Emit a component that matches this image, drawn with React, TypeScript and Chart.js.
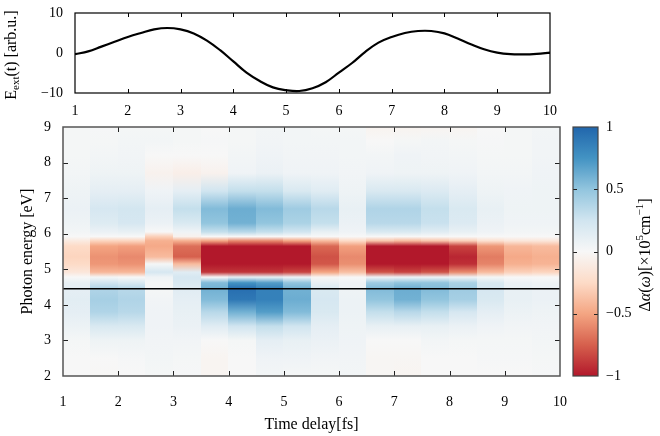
import { useEffect, useRef } from 'react';
import { Chart, registerables } from 'chart.js';
Chart.register(...registerables);

// ---------- data ----------
const fieldTimes = [1, 1.25, 1.5, 1.75, 2, 2.25, 2.5, 2.75, 3, 3.25, 3.5, 3.75, 4, 4.25, 4.5, 4.75, 5, 5.25, 5.5, 5.75, 6, 6.25, 6.5, 6.75, 7, 7.25, 7.5, 7.75, 8, 8.25, 8.5, 8.75, 9, 9.25, 9.5, 9.75, 10];
const fieldValues = [-0.3, 0.4, 1.6, 2.8, 4.0, 5.0, 5.9, 6.25, 5.9, 4.9, 3.1, 0.7, -2.1, -4.9, -7.0, -8.6, -9.3, -9.5, -8.8, -7.3, -4.9, -2.5, 0.3, 2.6, 4.0, 5.0, 5.5, 5.5, 4.9, 3.6, 2.2, 0.95, 0.1, -0.3, -0.35, -0.2, 0.1];

const delays = [1, 1.5, 2, 2.5, 3, 3.5, 4, 4.5, 5, 5.5, 6, 6.5, 7, 7.5, 8, 8.5, 9, 9.5];
const delayEnd = 10;
const energies = [2.0, 2.5, 3.0, 3.4, 3.8, 4.15, 4.45, 4.62, 4.78, 4.92, 5.15, 5.35, 5.65, 5.8, 5.92, 6.05, 6.3, 6.7, 7.2, 7.7, 8.2, 8.6, 9.0];

const dA_t1_0 = [0.0, 0.0, 0.02, 0.07, 0.12, 0.14, 0.12, 0.1, 0.0, -0.15, -0.25, -0.28, -0.25, -0.12, 0.0, 0.03, 0.06, 0.08, 0.06, 0.03, 0.02, 0.02, 0.02];
const dA_t1_5 = [-0.01, 0.0, 0.06, 0.2, 0.38, 0.42, 0.38, 0.25, 0.02, -0.42, -0.55, -0.57, -0.5, -0.28, 0.0, 0.08, 0.17, 0.22, 0.12, 0.06, 0.03, 0.02, 0.01];
const dA_t2_0 = [0.0, 0.01, 0.06, 0.2, 0.35, 0.38, 0.35, 0.2, 0.0, -0.42, -0.57, -0.6, -0.52, -0.28, 0.0, 0.1, 0.22, 0.24, 0.12, 0.06, 0.04, 0.03, 0.02];
const dA_t2_5 = [0.02, 0.03, 0.04, 0.05, 0.05, 0.04, 0.02, 0.02, 0.05, 0.22, 0.02, -0.4, -0.48, -0.45, -0.3, 0.0, 0.08, 0.12, 0.05, -0.05, 0.0, 0.03, 0.02];
const dA_t3_0 = [0.01, 0.02, 0.04, 0.08, 0.1, 0.12, 0.15, 0.2, 0.22, 0.15, -0.4, -0.75, -0.7, -0.45, -0.05, 0.05, 0.2, 0.3, 0.12, -0.08, 0.0, 0.02, 0.02];
const dA_t3_5 = [-0.03, -0.03, 0.0, 0.15, 0.35, 0.55, 0.6, 0.55, 0.0, -0.9, -1.3, -1.3, -1.2, -0.5, 0.0, 0.3, 0.5, 0.55, 0.25, -0.05, 0.0, 0.01, 0.0];
const dA_t4_0 = [0.0, 0.0, 0.02, 0.25, 0.6, 0.9, 0.95, 0.75, 0.1, -0.9, -1.4, -1.4, -1.3, -0.6, 0.0, 0.35, 0.6, 0.62, 0.3, 0.05, 0.03, 0.02, 0.02];
const dA_t4_5 = [0.03, 0.05, 0.12, 0.3, 0.7, 0.85, 0.85, 0.7, 0.1, -0.9, -1.4, -1.4, -1.3, -0.6, 0.0, 0.3, 0.5, 0.55, 0.3, 0.08, 0.05, 0.04, 0.03];
const dA_t5_0 = [0.02, 0.05, 0.1, 0.25, 0.55, 0.62, 0.6, 0.5, 0.05, -0.85, -1.3, -1.3, -1.2, -0.5, 0.0, 0.25, 0.4, 0.45, 0.2, 0.05, 0.04, 0.03, 0.03];
const dA_t5_5 = [0.02, 0.04, 0.08, 0.12, 0.2, 0.22, 0.2, 0.1, -0.02, -0.5, -0.78, -0.8, -0.72, -0.4, 0.0, 0.1, 0.3, 0.35, 0.15, 0.05, 0.04, 0.03, 0.02];
const dA_t6_0 = [0.03, 0.04, 0.05, 0.06, 0.07, 0.07, 0.06, 0.05, 0.0, -0.38, -0.58, -0.6, -0.52, -0.25, 0.0, 0.05, 0.08, 0.1, 0.06, 0.04, 0.03, 0.03, 0.02];
const dA_t6_5 = [-0.02, -0.02, 0.0, 0.1, 0.3, 0.5, 0.55, 0.45, 0.05, -0.8, -1.2, -1.2, -1.1, -0.35, 0.0, 0.2, 0.35, 0.38, 0.2, 0.05, 0.03, 0.0, -0.04];
const dA_t7_0 = [-0.03, -0.02, 0.0, 0.1, 0.35, 0.6, 0.62, 0.5, 0.05, -0.85, -1.3, -1.3, -1.2, -0.4, 0.0, 0.2, 0.35, 0.38, 0.2, 0.06, 0.05, 0.02, -0.04];
const dA_t7_5 = [0.0, 0.0, 0.03, 0.1, 0.3, 0.5, 0.55, 0.5, 0.05, -0.8, -1.15, -1.15, -1.05, -0.35, 0.0, 0.15, 0.28, 0.3, 0.18, 0.06, 0.04, 0.03, -0.03];
const dA_t8_0 = [0.0, 0.0, 0.02, 0.08, 0.22, 0.42, 0.45, 0.4, 0.05, -0.6, -0.92, -0.95, -0.85, -0.3, 0.0, 0.1, 0.18, 0.2, 0.12, 0.05, 0.03, 0.02, -0.03];
const dA_t8_5 = [0.0, 0.01, 0.02, 0.05, 0.12, 0.2, 0.22, 0.2, 0.02, -0.4, -0.62, -0.65, -0.55, -0.2, 0.0, 0.05, 0.08, 0.1, 0.06, 0.03, 0.02, 0.01, 0.0];
const dA_t9_0 = [0.0, 0.01, 0.02, 0.04, 0.07, 0.1, 0.1, 0.08, 0.0, -0.3, -0.45, -0.48, -0.42, -0.15, 0.0, 0.03, 0.05, 0.06, 0.05, 0.03, 0.02, 0.02, 0.02];
const dA_t9_5 = [0.01, 0.02, 0.03, 0.04, 0.06, 0.08, 0.08, 0.06, 0.0, -0.28, -0.43, -0.45, -0.4, -0.15, 0.0, 0.03, 0.05, 0.06, 0.06, 0.05, 0.04, 0.04, 0.03];

const heatColumns = [dA_t1_0, dA_t1_5, dA_t2_0, dA_t2_5, dA_t3_0, dA_t3_5, dA_t4_0, dA_t4_5, dA_t5_0, dA_t5_5, dA_t6_0, dA_t6_5, dA_t7_0, dA_t7_5, dA_t8_0, dA_t8_5, dA_t9_0, dA_t9_5];

const gapEnergy = 4.45;
const timeTicks = [1, 2, 3, 4, 5, 6, 7, 8, 9, 10];
const energyTicks = [2, 3, 4, 5, 6, 7, 8, 9];
const fieldTicks = [-10, 0, 10];
const cbarTicks = [-1, -0.5, 0, 0.5, 1];
const rdbu = ['#b2182b', '#d6604d', '#f4a582', '#fddbc7', '#f7f7f7', '#d1e5f0', '#92c5de', '#4393c3', '#2166ac'];

// ---------- helpers ----------
const SERIF = '"Liberation Serif", "DejaVu Serif", serif';
const fmt = (v: number) => (v < 0 ? '\u2212' + String(Math.abs(v)) : String(v));
const hex = (h: string) => [parseInt(h.slice(1, 3), 16), parseInt(h.slice(3, 5), 16), parseInt(h.slice(5, 7), 16)];
const rdbuRgb = rdbu.map(hex);
function cmap(v: number) {
  const c = Math.max(-1, Math.min(1, v));
  const p = ((c + 1) / 2) * (rdbuRgb.length - 1);
  const i = Math.min(Math.floor(p), rdbuRgb.length - 2);
  const f = p - i;
  const a = rdbuRgb[i], b = rdbuRgb[i + 1];
  return `rgb(${Math.round(a[0] + (b[0] - a[0]) * f)},${Math.round(a[1] + (b[1] - a[1]) * f)},${Math.round(a[2] + (b[2] - a[2]) * f)})`;
}
const setTicks = (arr: number[]) => (s: any) => { s.ticks = arr.map((v) => ({ value: v })); };
const fitX = (h: number) => (s: any) => { s.height = h; s.paddingLeft = 0; s.paddingRight = 0; };
const fitY = (w: number) => (s: any) => { s.width = w; s.paddingTop = 0; s.paddingBottom = 0; };

type Seg = { t: string; size: number; italic?: boolean; dy?: number };
function drawRotated(ctx: CanvasRenderingContext2D, cx: number, cy: number, segs: Seg[]) {
  ctx.save();
  ctx.translate(cx, cy);
  ctx.rotate(-Math.PI / 2);
  ctx.textBaseline = 'alphabetic';
  ctx.textAlign = 'left';
  ctx.fillStyle = '#000';
  let total = 0;
  const widths = segs.map((s) => {
    ctx.font = `${s.italic ? 'italic ' : ''}${s.size}px ${SERIF}`;
    const w = ctx.measureText(s.t).width;
    total += w;
    return w;
  });
  let x = -total / 2;
  segs.forEach((s, i) => {
    ctx.font = `${s.italic ? 'italic ' : ''}${s.size}px ${SERIF}`;
    ctx.fillText(s.t, x, 5 + (s.dy || 0));
    x += widths[i];
  });
  ctx.restore();
}

function frameTicks(color: string, tickColor: string, width: number, len: number) {
  return {
    id: 'frameTicks',
    afterDatasetsDraw(chart: any) {
      const { ctx, chartArea: a, scales } = chart;
      ctx.save();
      ctx.strokeStyle = tickColor;
      ctx.lineWidth = 1;
      const xs = scales.x, ys = scales.y;
      xs.ticks.forEach((t: any) => {
        const px = Math.round(xs.getPixelForValue(t.value)) + 0.5;
        if (px <= a.left + 1 || px >= a.right - 1) return;
        ctx.beginPath();
        ctx.moveTo(px, a.bottom); ctx.lineTo(px, a.bottom - len);
        ctx.moveTo(px, a.top); ctx.lineTo(px, a.top + len);
        ctx.stroke();
      });
      ys.ticks.forEach((t: any) => {
        const py = Math.round(ys.getPixelForValue(t.value)) + 0.5;
        if (py <= a.top + 1 || py >= a.bottom - 1) return;
        ctx.beginPath();
        ctx.moveTo(a.left, py); ctx.lineTo(a.left + len, py);
        ctx.moveTo(a.right, py); ctx.lineTo(a.right - len, py);
        ctx.stroke();
      });
      ctx.strokeStyle = color;
      ctx.lineWidth = width;
      ctx.strokeRect(a.left, a.top, a.right - a.left, a.bottom - a.top);
      ctx.restore();
    },
  };
}

const heatmapPlugin = {
  id: 'heatmap',
  beforeDatasetsDraw(chart: any) {
    const { ctx, chartArea: a, scales } = chart;
    const xs = scales.x, ys = scales.y;
    ctx.save();
    ctx.beginPath();
    ctx.rect(a.left, a.top, a.right - a.left, a.bottom - a.top);
    ctx.clip();
    const yBot = ys.getPixelForValue(energies[0]);
    const yTop = ys.getPixelForValue(energies[energies.length - 1]);
    delays.forEach((d, i) => {
      const x0 = xs.getPixelForValue(d);
      const x1 = xs.getPixelForValue(i + 1 < delays.length ? delays[i + 1] : delayEnd);
      const g = ctx.createLinearGradient(0, yBot, 0, yTop);
      energies.forEach((e, j) => {
        g.addColorStop((ys.getPixelForValue(e) - yBot) / (yTop - yBot), cmap(heatColumns[i][j]));
      });
      ctx.fillStyle = g;
      ctx.fillRect(Math.floor(x0), yTop, Math.ceil(x1) - Math.floor(x0), yBot - yTop);
    });
    ctx.restore();
  },
};

const colorbarPlugin = {
  id: 'colorbar',
  beforeDatasetsDraw(chart: any) {
    const { ctx, chartArea: a, scales } = chart;
    const ys = scales.y;
    const yBot = ys.getPixelForValue(-1);
    const yTop = ys.getPixelForValue(1);
    const g = ctx.createLinearGradient(0, yBot, 0, yTop);
    rdbu.forEach((c, i) => g.addColorStop(i / (rdbu.length - 1), c));
    ctx.save();
    ctx.fillStyle = g;
    ctx.fillRect(a.left, yTop, a.right - a.left, yBot - yTop);
    ctx.restore();
    drawRotated(ctx, 85, 140, [
      { t: '\u0394', size: 16 },
      { t: '\u03b1', size: 16, italic: true },
      { t: '(', size: 16 },
      { t: '\u03c9', size: 16, italic: true },
      { t: ')[\u00d710', size: 16 },
      { t: '5', size: 11, dy: -7 },
      { t: 'cm', size: 16 },
      { t: '\u22121', size: 11, dy: -7 },
      { t: ']', size: 16 },
    ]);
  },
};

const fieldTitlePlugin = {
  id: 'fieldTitle',
  afterDraw(chart: any) {
    drawRotated(chart.ctx, 11, 55, [
      { t: 'E', size: 16 },
      { t: 'ext', size: 11, dy: 3 },
      { t: '(t) [arb.u.]', size: 16 },
    ]);
  },
};

const tickFont = { family: SERIF, size: 14 };
const titleFont = { family: SERIF, size: 16 };

export default function App() {
  const topRef = useRef<HTMLCanvasElement>(null);
  const mapRef = useRef<HTMLCanvasElement>(null);
  const barRef = useRef<HTMLCanvasElement>(null);

  useEffect(() => {
    const top = new Chart(topRef.current as HTMLCanvasElement, {
      type: 'scatter',
      data: {
        datasets: [{
          data: fieldTimes.map((t, i) => ({ x: t, y: fieldValues[i] })),
          showLine: true,
          borderColor: '#000',
          borderWidth: 2.2,
          pointRadius: 0,
          tension: 0.4,
        } as any],
      },
      options: {
        animation: false,
        responsive: false,
        maintainAspectRatio: false,
        layout: { padding: { top: 13, right: 10, left: 0, bottom: 10 } },
        plugins: { legend: { display: false }, tooltip: { enabled: false } },
        scales: {
          x: {
            type: 'linear', min: 1, max: 10,
            afterBuildTicks: setTicks(timeTicks),
            grid: { display: false, drawTicks: false }, border: { display: false },
            ticks: { font: tickFont, color: '#000', padding: 10, maxRotation: 0, autoSkip: false, callback: (v: any) => fmt(Number(v)) },
            afterFit: fitX(22),
          },
          y: {
            min: -10, max: 10,
            afterBuildTicks: setTicks(fieldTicks),
            grid: { display: false, drawTicks: false }, border: { display: false },
            ticks: { font: tickFont, color: '#000', padding: 12, callback: (v: any) => fmt(Number(v)) },
            afterFit: fitY(75),
          },
        },
      } as any,
      plugins: [frameTicks('#000', '#000', 1.2, 4), fieldTitlePlugin],
    });

    const map = new Chart(mapRef.current as HTMLCanvasElement, {
      type: 'scatter',
      data: {
        datasets: [{
          data: [{ x: timeTicks[0], y: gapEnergy }, { x: timeTicks[timeTicks.length - 1], y: gapEnergy }],
          showLine: true,
          borderColor: '#000',
          borderWidth: 1.5,
          pointRadius: 0,
        } as any],
      },
      options: {
        animation: false,
        responsive: false,
        maintainAspectRatio: false,
        layout: { padding: { top: 12, right: 10, left: 0, bottom: 0 } },
        plugins: { legend: { display: false }, tooltip: { enabled: false } },
        scales: {
          x: {
            type: 'linear', min: 1, max: 10,
            afterBuildTicks: setTicks(timeTicks),
            grid: { display: false, drawTicks: false }, border: { display: false },
            ticks: { font: tickFont, color: '#000', padding: 18, maxRotation: 0, autoSkip: false },
            title: { display: true, text: 'Time delay[fs]', font: titleFont, color: '#000', padding: { top: 0, bottom: 2 } },
            afterFit: fitX(60),
          },
          y: {
            min: 2, max: 9,
            afterBuildTicks: setTicks(energyTicks),
            grid: { display: false, drawTicks: false }, border: { display: false },
            ticks: { font: tickFont, color: '#000', padding: 12 },
            title: { display: true, text: 'Photon energy [eV]', font: titleFont, color: '#000', padding: { top: 18, bottom: 0 } },
            afterFit: fitY(63),
          },
        },
      } as any,
      plugins: [heatmapPlugin, frameTicks('#555', '#222', 1.5, 5)],
    });

    const bar = new Chart(barRef.current as HTMLCanvasElement, {
      type: 'scatter',
      data: { datasets: [] },
      options: {
        animation: false,
        responsive: false,
        maintainAspectRatio: false,
        layout: { padding: { top: 12, right: 0, left: 13, bottom: 60 } },
        plugins: { legend: { display: false }, tooltip: { enabled: false } },
        scales: {
          x: { display: false, type: 'linear', min: 0, max: 1, afterBuildTicks: setTicks([]) },
          y: {
            position: 'right', min: -1, max: 1,
            afterBuildTicks: setTicks(cbarTicks),
            grid: { display: false, drawTicks: false }, border: { display: false },
            ticks: { font: tickFont, color: '#000', padding: 8, callback: (v: any) => fmt(Number(v)) },
            afterFit: fitY(62),
          },
        },
      } as any,
      plugins: [colorbarPlugin, frameTicks('#444', '#222', 1.2, 4)],
    });

    return () => { top.destroy(); map.destroy(); bar.destroy(); };
  }, []);

  return (
    <div style={{ position: 'fixed', left: 0, top: 0, width: 660, height: 436, background: '#fff' }}>
      <canvas ref={topRef} width={560} height={125} style={{ position: 'absolute', left: 0, top: 0, width: 560, height: 125 }} />
      <canvas ref={mapRef} width={570} height={321} style={{ position: 'absolute', left: 0, top: 115, width: 570, height: 321 }} />
      <canvas ref={barRef} width={100} height={321} style={{ position: 'absolute', left: 560, top: 115, width: 100, height: 321 }} />
    </div>
  );
}
